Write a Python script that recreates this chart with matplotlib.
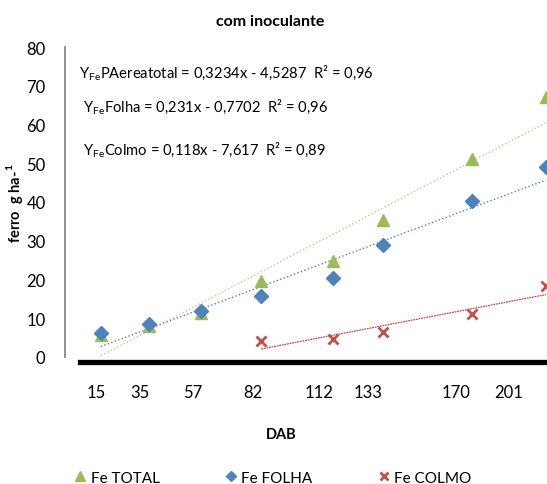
import matplotlib
matplotlib.use("Agg")
import matplotlib.pyplot as plt
import numpy as np

plt.rcParams['font.family'] = ['Lato', 'DejaVu Sans']
plt.rcParams['mathtext.fontset'] = 'custom'
plt.rcParams['mathtext.rm'] = 'Lato'
plt.rcParams['mathtext.bf'] = 'Lato:bold'

# dias apos a semeadura (DAB)
dab = [15, 35, 57, 82, 112, 133, 170, 201]
dab_colmo = [82, 112, 133, 170, 201]

fe_total = [5.7, 8.0, 11.4, 19.6, 24.8, 35.4, 51.1, 67.1]
fe_folha = [6.2, 8.5, 11.9, 15.7, 20.4, 28.9, 40.3, 49.0]
fe_colmo = [4.1, 4.6, 6.5, 11.1, 18.3]

# coeficientes das retas de tendencia
coef_total = (0.3234, -4.5287)
coef_folha = (0.231, -0.7702)
coef_colmo = (0.118, -7.617)

tick_pos = [12.9, 31.3, 53.5, 78.5, 106.1, 126.6, 163.4, 185.6]
tick_lab = ['15', '35', '57', '82', '112', '133', '170', '201']

verde = '#9BBB59'
azul = '#4F81BD'
verm = '#C0504D'

fig = plt.figure(figsize=(5.47, 4.85), dpi=100)
ax = fig.add_axes([0.1188, 0.238, 0.8812, 0.663])

def trend(x, coef):
    x = np.array([x[0], x[-1]], dtype=float)
    return x, coef[0] * x + coef[1]

x, y = trend(dab, coef_total)
ax.plot(x, y, ls=':', lw=1, color='#B9CF85')
x, y = trend(dab, coef_folha)
ax.plot(x, y, ls=':', lw=1, color=azul)
x, y = trend(dab_colmo, coef_colmo)
ax.plot(x, y, ls='--', dashes=(1.5, 0.6), lw=0.9, color=verm)

h1, = ax.plot(dab, fe_total, ls='none', marker='^', ms=9, color=verde,
              clip_on=False, label='Fe TOTAL')
h2, = ax.plot(dab, fe_folha, ls='none', marker='D', ms=7, color=azul,
              clip_on=False, label='Fe FOLHA')
h3, = ax.plot(dab_colmo, fe_colmo, ls='none', marker='x', ms=7, mew=2,
              color=verm, clip_on=False, label='Fe COLMO')

ax.set_xlim(0, 201.45)
ax.set_ylim(-3, 80)
ax.axhline(-1.3, xmin=0.031, xmax=1, color='black', lw=3.8, clip_on=False)

for s in ['top', 'right', 'bottom']:
    ax.spines[s].set_visible(False)
ax.spines['left'].set_bounds(0, 80)
ax.spines['left'].set_color('#888888')
ax.spines['left'].set_linewidth(1.3)

ax.set_yticks(np.arange(0, 81, 10))
ax.set_xticks(tick_pos)
ax.set_xticklabels(tick_lab)
ax.tick_params(axis='y', length=0, pad=14, labelsize=12)
ax.tick_params(axis='x', length=0, pad=11, labelsize=12)

fs = 10.6
ax.text(0.03, 0.922, r'Y$_{\mathrm{Fe}}$PAereatotal = 0,3234x - 4,5287  R² = 0,96',
        transform=ax.transAxes, fontsize=fs, va='center')
ax.text(0.037, 0.817, r'Y$_{\mathrm{Fe}}$Folha = 0,231x - 0,7702  R² = 0,96',
        transform=ax.transAxes, fontsize=fs, va='center')
ax.text(0.037, 0.683, r'Y$_{\mathrm{Fe}}$Colmo = 0,118x - 7,617  R² = 0,89',
        transform=ax.transAxes, fontsize=fs, va='center')

fig.text(0.494, 0.955, 'com inoculante', ha='center', va='center',
         fontsize=11.5, fontweight='bold')
fig.text(0.514, 0.103, 'DAB', ha='center', va='center',
         fontsize=10.5, fontweight='bold')
fig.text(0.027, 0.58, r'ferro  g ha-$^{\mathbf{1}}$', ha='center', va='center',
         rotation=90, fontsize=10.5, fontweight='bold')

fig.legend(handles=[h1, h2, h3], loc='center', bbox_to_anchor=(0.50, 0.013),
           ncol=3, frameon=False, fontsize=11, handlelength=0.6,
           handletextpad=0.4, columnspacing=4.35, borderaxespad=0,
           markerscale=0.8)

fig.savefig('out.png', dpi=100)
